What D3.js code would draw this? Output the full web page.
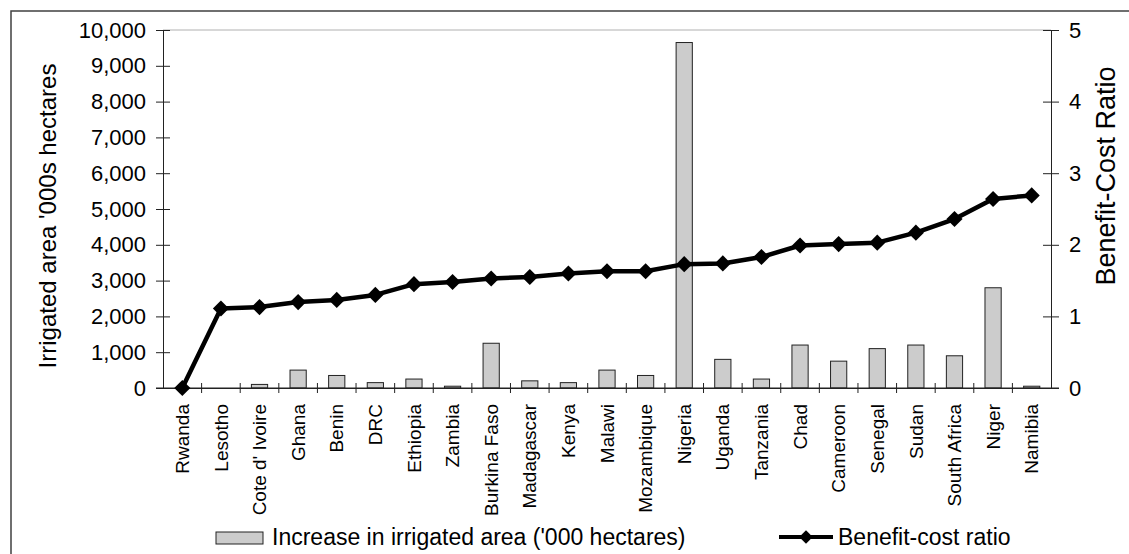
<!DOCTYPE html>
<html>
<head>
<meta charset="utf-8">
<script src="https://cdn.jsdelivr.net/npm/d3@7"></script>
<style>
  body { margin: 0; background: #fff; }
  text { font-family: "Liberation Sans", Arial, sans-serif; fill: #000; }
</style>
</head>
<body>
<div id="chart"></div>
<script>
// data
const countries = ['Rwanda', 'Lesotho', "Cote d' Ivoire", 'Ghana', 'Benin', 'DRC', 'Ethiopia', 'Zambia',
  'Burkina Faso', 'Madagascar', 'Kenya', 'Malawi', 'Mozambique', 'Nigeria', 'Uganda', 'Tanzania',
  'Chad', 'Cameroon', 'Senegal', 'Sudan', 'South Africa', 'Niger', 'Namibia'];
const irrigatedArea = [0, 0, 100, 500, 350, 150, 250, 50, 1250, 200, 150, 500, 350, 9650,
  800, 250, 1200, 750, 1100, 1200, 900, 2800, 50];
const benefitCost = [0, 1.11, 1.13, 1.20, 1.23, 1.30, 1.45, 1.48, 1.53, 1.55, 1.60, 1.63, 1.63, 1.73,
  1.74, 1.83, 1.99, 2.01, 2.03, 2.17, 2.36, 2.64, 2.69];
const leftTicks = [0, 1000, 2000, 3000, 4000, 5000, 6000, 7000, 8000, 9000, 10000];
const rightTicks = [0, 1, 2, 3, 4, 5];

const W = 1129, H = 554;
const plot = { left: 163, right: 1051, top: 30, bottom: 388 };

const svg = d3.select('#chart').append('svg')
  .attr('width', W)
  .attr('height', H);

// outer frame (only left and top edges fall inside the window)
svg.append('rect')
  .attr('x', 11).attr('y', 11)
  .attr('width', 1300).attr('height', 700)
  .attr('fill', 'none')
  .attr('stroke', '#404040')
  .attr('stroke-width', 1.5);

const x = d3.scaleBand().domain(countries).range([plot.left, plot.right]).padding(0);
const y = d3.scaleLinear().domain([0, 10000]).range([plot.bottom, plot.top]);
const y2 = d3.scaleLinear().domain([0, 5]).range([plot.bottom, plot.top]);

// plot area top border
svg.append('line')
  .attr('x1', plot.left).attr('x2', plot.right)
  .attr('y1', plot.top).attr('y2', plot.top)
  .attr('stroke', '#b0b0b0')
  .attr('stroke-width', 1);

// bars
const barW = x.bandwidth() * 0.42;
svg.append('g').selectAll('rect')
  .data(countries)
  .join('rect')
  .attr('x', (d) => x(d) + (x.bandwidth() - barW) / 2)
  .attr('y', (d, i) => y(irrigatedArea[i]))
  .attr('width', barW)
  .attr('height', (d, i) => y(0) - y(irrigatedArea[i]))
  .attr('fill', '#cccccc')
  .attr('stroke', '#222')
  .attr('stroke-width', 1);

// left axis
const yAxis = d3.axisLeft(y).tickValues(leftTicks).tickFormat(d3.format(',')).tickSizeOuter(0).tickSizeInner(7).tickPadding(10);
const gy = svg.append('g')
  .attr('transform', `translate(${plot.left},0)`)
  .call(yAxis);
gy.selectAll('.tick line').attr('x2', 7).attr('x1', -7);
gy.selectAll('.tick text').attr('x', -17).style('font-size', '22px');

// right axis
const yAxis2 = d3.axisRight(y2).tickValues(rightTicks).tickFormat(d3.format('d')).tickSizeOuter(0).tickSizeInner(8).tickPadding(10);
const gy2 = svg.append('g')
  .attr('transform', `translate(${plot.right},0)`)
  .call(yAxis2);
gy2.selectAll('.tick line').attr('x1', -8).attr('x2', 8);
gy2.selectAll('.tick text').attr('x', 18).style('font-size', '22px');

// x axis
const xAxis = d3.axisBottom(x).tickSize(0).tickSizeOuter(0);
const gx = svg.append('g')
  .attr('transform', `translate(0,${plot.bottom})`)
  .call(xAxis);
gx.selectAll('.tick text')
  .attr('transform', 'rotate(-90)')
  .attr('x', -16)
  .attr('y', 0)
  .attr('dy', '0.35em')
  .style('text-anchor', 'end')
  .style('font-size', '19px');
// band boundary ticks crossing the axis
gx.selectAll('.bound')
  .data(countries.slice(1))
  .join('line')
  .attr('class', 'bound')
  .attr('x1', (d) => x(d)).attr('x2', (d) => x(d))
  .attr('y1', -5).attr('y2', 5)
  .attr('stroke', '#000');
gx.append('line')
  .attr('x1', plot.left - 7).attr('x2', plot.right + 8)
  .attr('stroke', '#333');

[gy, gy2, gx].forEach((g) => {
  g.selectAll('path.domain').attr('stroke', '#222');
  g.selectAll('line').attr('stroke', '#222');
});

// benefit-cost line
const line = d3.line()
  .x((d, i) => x(countries[i]) + x.bandwidth() / 2)
  .y((d) => y2(d));
svg.append('path')
  .datum(benefitCost)
  .attr('fill', 'none')
  .attr('stroke', '#000')
  .attr('stroke-width', 4.5)
  .attr('stroke-linejoin', 'round')
  .attr('d', line);

const diamond = d3.symbol(d3.symbolSquare, 130);
svg.append('g').selectAll('path')
  .data(benefitCost)
  .join('path')
  .attr('d', diamond)
  .attr('transform', (d, i) => `translate(${x(countries[i]) + x.bandwidth() / 2},${y2(d)}) rotate(45)`)
  .attr('fill', '#000');

// axis titles
svg.append('text')
  .attr('transform', 'translate(56,216) rotate(-90)')
  .style('text-anchor', 'middle')
  .style('font-size', '24px')
  .text("Irrigated area '000s hectares");

svg.append('text')
  .attr('transform', 'translate(1115,176) rotate(-90)')
  .style('text-anchor', 'middle')
  .style('font-size', '27px')
  .text('Benefit-Cost Ratio');

// legend
const legend = svg.append('g');
legend.append('rect')
  .attr('x', 216).attr('y', 532)
  .attr('width', 47).attr('height', 12)
  .attr('fill', '#cccccc')
  .attr('stroke', '#222');
legend.append('text')
  .attr('x', 272).attr('y', 545)
  .style('font-size', '23px')
  .text("Increase in irrigated area ('000 hectares)");
legend.append('line')
  .attr('x1', 779).attr('x2', 833)
  .attr('y1', 537).attr('y2', 537)
  .attr('stroke', '#000')
  .attr('stroke-width', 4);
legend.append('path')
  .attr('d', d3.symbol(d3.symbolSquare, 90))
  .attr('transform', 'translate(806,537) rotate(45)')
  .attr('fill', '#000');
legend.append('text')
  .attr('x', 838).attr('y', 545)
  .style('font-size', '23px')
  .text('Benefit-cost ratio');
</script>
</body>
</html>
